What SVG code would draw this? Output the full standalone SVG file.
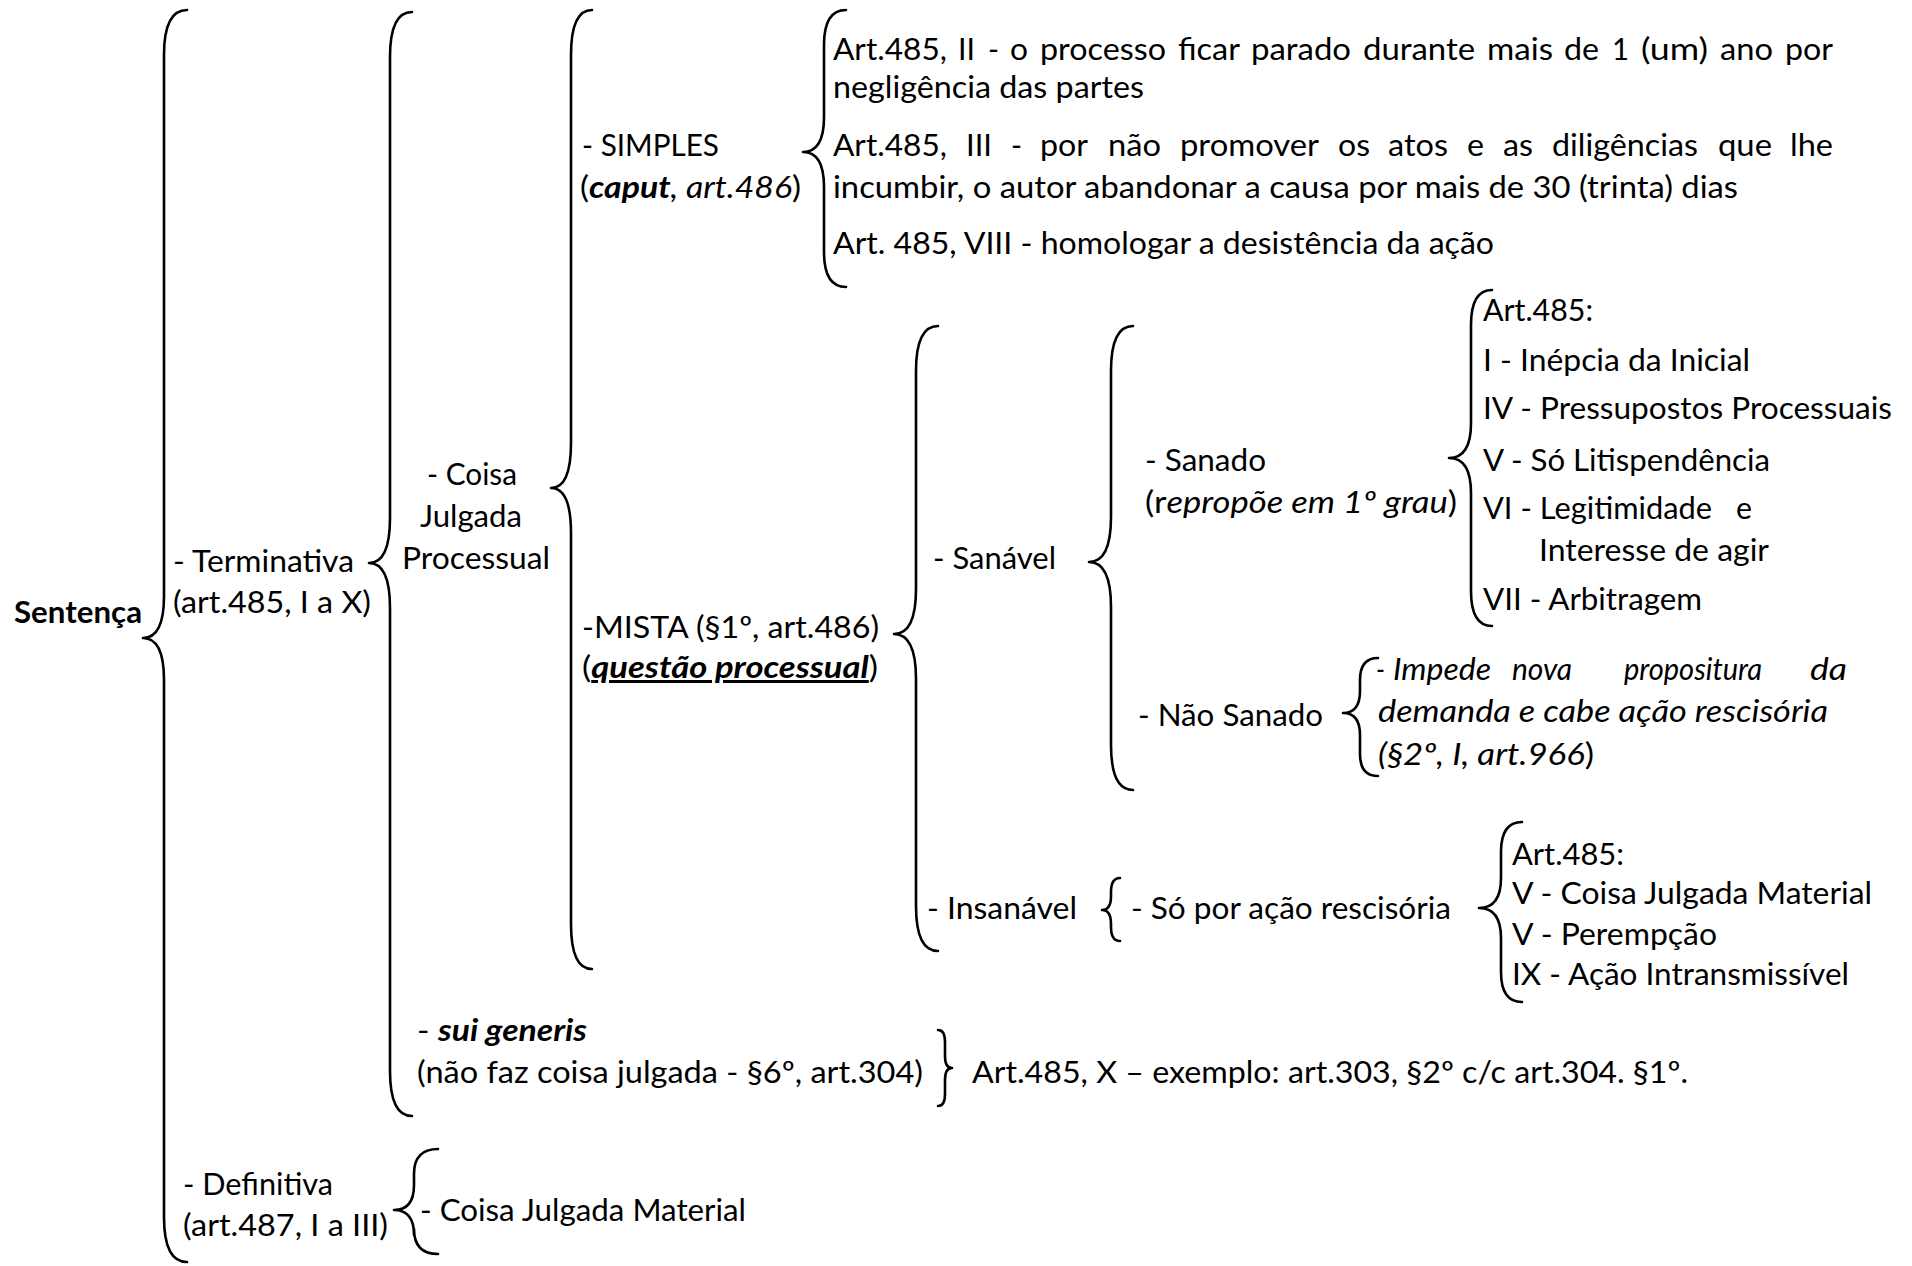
<svg xmlns="http://www.w3.org/2000/svg" width="1912" height="1266" viewBox="0 0 1912 1266">
<style>
text{font-family:Lato,"Liberation Sans",sans-serif;font-size:30px;fill:#000}
.b{font-weight:bold}
.i{font-style:italic}
.bi{font-weight:bold;font-style:italic}
.u{text-decoration:underline}
.br{fill:none;stroke:#000;stroke-width:2.6;stroke-linejoin:round;stroke-linecap:round}
</style>
<rect width="1912" height="1266" fill="#fff"/>
<g id="connectors">
<path class="br" d="M187,10 Q164,10 164,55 V596 Q164,638 143,638 Q164,638 164,680 V1217 Q164,1262 187,1262"/>
<path class="br" d="M412,12 Q390,12 390,57 V518 Q390,563 369,563 Q390,563 390,608 V1071 Q390,1116 412,1116"/>
<path class="br" d="M592,10 Q571,10 571,55 V443 Q571,488 551,488 Q571,488 571,533 V924 Q571,969 592,969"/>
<path class="br" d="M846,10 Q824,10 824,45 V117 Q824,152 803,152 Q824,152 824,187 V252 Q824,287 846,287"/>
<path class="br" d="M938,326 Q916,326 916,371 V589 Q916,634 894,634 Q916,634 916,679 V906 Q916,951 938,951"/>
<path class="br" d="M1133,326 Q1111,326 1111,371 V517 Q1111,562 1089,562 Q1111,562 1111,607 V745 Q1111,790 1133,790"/>
<path class="br" d="M1492,290 Q1471,290 1471,325 V423 Q1471,458 1449,458 Q1471,458 1471,493 V591 Q1471,626 1492,626"/>
<path class="br" d="M1378,658 Q1360,658 1360,680 V691 Q1360,713 1343,713 Q1360,713 1360,735 V754 Q1360,776 1378,776"/>
<path class="br" d="M1120,878 Q1111,878 1111,892 V896 Q1111,910 1102,910 Q1111,910 1111,924 V927 Q1111,941 1120,941"/>
<path class="br" d="M1522,822 Q1501,822 1501,852 V878 Q1501,908 1479,908 Q1501,908 1501,938 V972 Q1501,1002 1522,1002"/>
<path class="br" d="M938,1030 Q945,1030 945,1042 V1056 Q945,1068 952,1068 Q945,1068 945,1080 V1094 Q945,1106 938,1106"/>
<path class="br" d="M438,1149 Q414,1149 414,1174 V1185 Q414,1210 394,1210 Q414,1210 414,1235 V1229 Q414,1254 438,1254"/>
</g>
<g id="sentenca"><text class="b" x="14" y="623" textLength="128" lengthAdjust="spacingAndGlyphs">Sentença</text></g>
<g id="terminativa">
<text x="173" y="572" textLength="181" lengthAdjust="spacingAndGlyphs">- Terminativa</text>
<text x="173" y="613" textLength="198" lengthAdjust="spacingAndGlyphs">(art.485, I a X)</text>
</g>
<g id="coisa-julgada-processual">
<text x="427" y="485" textLength="90" lengthAdjust="spacingAndGlyphs">- Coisa</text>
<text x="420" y="527" textLength="102" lengthAdjust="spacingAndGlyphs">Julgada</text>
<text x="402" y="569" textLength="148" lengthAdjust="spacingAndGlyphs">Processual</text>
</g>
<g id="simples">
<text x="582" y="156" textLength="137" lengthAdjust="spacingAndGlyphs">- SIMPLES</text>
<text x="580" y="198" textLength="221" lengthAdjust="spacingAndGlyphs">(<tspan class="bi">caput</tspan><tspan class="i">, art.486</tspan>)</text>
</g>
<g id="simples-itens">
<text x="833" y="60" textLength="114" lengthAdjust="spacingAndGlyphs">Art.485,</text>
<text x="958" y="60" textLength="17" lengthAdjust="spacingAndGlyphs">II</text>
<text x="988" y="60" textLength="11" lengthAdjust="spacingAndGlyphs">-</text>
<text x="1010" y="60" textLength="18" lengthAdjust="spacingAndGlyphs">o</text>
<text x="1040" y="60" textLength="126" lengthAdjust="spacingAndGlyphs">processo</text>
<text x="1178" y="60" textLength="62" lengthAdjust="spacingAndGlyphs">ficar</text>
<text x="1251" y="60" textLength="100" lengthAdjust="spacingAndGlyphs">parado</text>
<text x="1363" y="60" textLength="112" lengthAdjust="spacingAndGlyphs">durante</text>
<text x="1487" y="60" textLength="66" lengthAdjust="spacingAndGlyphs">mais</text>
<text x="1564" y="60" textLength="35" lengthAdjust="spacingAndGlyphs">de</text>
<text x="1612" y="60" textLength="17" lengthAdjust="spacingAndGlyphs">1</text>
<text x="1641" y="60" textLength="67" lengthAdjust="spacingAndGlyphs">(um)</text>
<text x="1720" y="60" textLength="53" lengthAdjust="spacingAndGlyphs">ano</text>
<text x="1785" y="60" textLength="48" lengthAdjust="spacingAndGlyphs">por</text>
<text x="833" y="98" textLength="311" lengthAdjust="spacingAndGlyphs">negligência das partes</text>
<text x="833" y="156" textLength="114" lengthAdjust="spacingAndGlyphs">Art.485,</text>
<text x="966" y="156" textLength="26" lengthAdjust="spacingAndGlyphs">III</text>
<text x="1011" y="156" textLength="11" lengthAdjust="spacingAndGlyphs">-</text>
<text x="1040" y="156" textLength="48" lengthAdjust="spacingAndGlyphs">por</text>
<text x="1108" y="156" textLength="53" lengthAdjust="spacingAndGlyphs">não</text>
<text x="1180" y="156" textLength="139" lengthAdjust="spacingAndGlyphs">promover</text>
<text x="1338" y="156" textLength="32" lengthAdjust="spacingAndGlyphs">os</text>
<text x="1388" y="156" textLength="60" lengthAdjust="spacingAndGlyphs">atos</text>
<text x="1467" y="156" textLength="17" lengthAdjust="spacingAndGlyphs">e</text>
<text x="1503" y="156" textLength="30" lengthAdjust="spacingAndGlyphs">as</text>
<text x="1552" y="156" textLength="146" lengthAdjust="spacingAndGlyphs">diligências</text>
<text x="1718" y="156" textLength="54" lengthAdjust="spacingAndGlyphs">que</text>
<text x="1790" y="156" textLength="43" lengthAdjust="spacingAndGlyphs">lhe</text>
<text x="833" y="198" textLength="905" lengthAdjust="spacingAndGlyphs">incumbir, o autor abandonar a causa por mais de 30 (trinta) dias</text>
<text x="833" y="254" textLength="661" lengthAdjust="spacingAndGlyphs">Art. 485, VIII - homologar a desistência da ação</text>
</g>
<g id="mista">
<text x="582" y="638" textLength="297" lengthAdjust="spacingAndGlyphs">-MISTA (§1º, art.486)</text>
<text x="582" y="678" textLength="296" lengthAdjust="spacingAndGlyphs">(<tspan class="bi u">questão processual</tspan>)</text>
</g>
<g id="sanavel"><text x="933" y="569" textLength="123" lengthAdjust="spacingAndGlyphs">- Sanável</text></g>
<g id="sanado">
<text x="1145" y="471" textLength="121" lengthAdjust="spacingAndGlyphs">- Sanado</text>
<text x="1145" y="513" textLength="312" lengthAdjust="spacingAndGlyphs">(r<tspan class="i">epropõe em 1º grau</tspan>)</text>
</g>
<g id="sanado-itens">
<text x="1483" y="321" textLength="110" lengthAdjust="spacingAndGlyphs">Art.485:</text>
<text x="1483" y="371" textLength="267" lengthAdjust="spacingAndGlyphs">I - Inépcia da Inicial</text>
<text x="1483" y="419" textLength="409" lengthAdjust="spacingAndGlyphs">IV - Pressupostos Processuais</text>
<text x="1483" y="471" textLength="287" lengthAdjust="spacingAndGlyphs">V - Só Litispendência</text>
<text x="1483" y="519" textLength="229" lengthAdjust="spacingAndGlyphs">VI - Legitimidade</text>
<text x="1736" y="519" textLength="16" lengthAdjust="spacingAndGlyphs">e</text>
<text x="1539" y="561" textLength="230" lengthAdjust="spacingAndGlyphs">Interesse de agir</text>
<text x="1483" y="610" textLength="219" lengthAdjust="spacingAndGlyphs">VII - Arbitragem</text>
</g>
<g id="nao-sanado"><text x="1138" y="726" textLength="185" lengthAdjust="spacingAndGlyphs">- Não Sanado</text></g>
<g id="nao-sanado-itens">
<text class="i" x="1376" y="680" textLength="9" lengthAdjust="spacingAndGlyphs">-</text>
<text class="i" x="1393" y="680" textLength="98" lengthAdjust="spacingAndGlyphs">Impede</text>
<text class="i" x="1512" y="680" textLength="60" lengthAdjust="spacingAndGlyphs">nova</text>
<text class="i" x="1624" y="680" textLength="138" lengthAdjust="spacingAndGlyphs">propositura</text>
<text class="i" x="1810" y="680" textLength="37" lengthAdjust="spacingAndGlyphs">da</text>
<text class="i" x="1378" y="722" textLength="450" lengthAdjust="spacingAndGlyphs">demanda e cabe ação rescisória</text>
<text x="1378" y="765" textLength="216" lengthAdjust="spacingAndGlyphs"><tspan class="i">(§2º, I, art.966</tspan>)</text>
</g>
<g id="insanavel"><text x="927" y="919" textLength="150" lengthAdjust="spacingAndGlyphs">- Insanável</text></g>
<g id="so-por-acao"><text x="1131" y="919" textLength="320" lengthAdjust="spacingAndGlyphs">- Só por ação rescisória</text></g>
<g id="insanavel-itens">
<text x="1512" y="865" textLength="112" lengthAdjust="spacingAndGlyphs">Art.485:</text>
<text x="1512" y="904" textLength="360" lengthAdjust="spacingAndGlyphs">V - Coisa Julgada Material</text>
<text x="1512" y="945" textLength="205" lengthAdjust="spacingAndGlyphs">V - Perempção</text>
<text x="1512" y="985" textLength="337" lengthAdjust="spacingAndGlyphs">IX - Ação Intransmissível</text>
</g>
<g id="sui-generis">
<text x="417" y="1041" textLength="170" lengthAdjust="spacingAndGlyphs">- <tspan class="bi">sui generis</tspan></text>
<text x="417" y="1083" textLength="506" lengthAdjust="spacingAndGlyphs">(não faz coisa julgada - §6º, art.304)</text>
</g>
<g id="art485-x"><text x="972" y="1083" textLength="716" lengthAdjust="spacingAndGlyphs">Art.485, X – exemplo: art.303, §2º c/c art.304. §1º.</text></g>
<g id="definitiva">
<text x="183" y="1195" textLength="150" lengthAdjust="spacingAndGlyphs">- Definitiva</text>
<text x="183" y="1236" textLength="205" lengthAdjust="spacingAndGlyphs">(art.487, I a III)</text>
</g>
<g id="coisa-julgada-material"><text x="420" y="1221" textLength="326" lengthAdjust="spacingAndGlyphs">- Coisa Julgada Material</text></g>
</svg>
